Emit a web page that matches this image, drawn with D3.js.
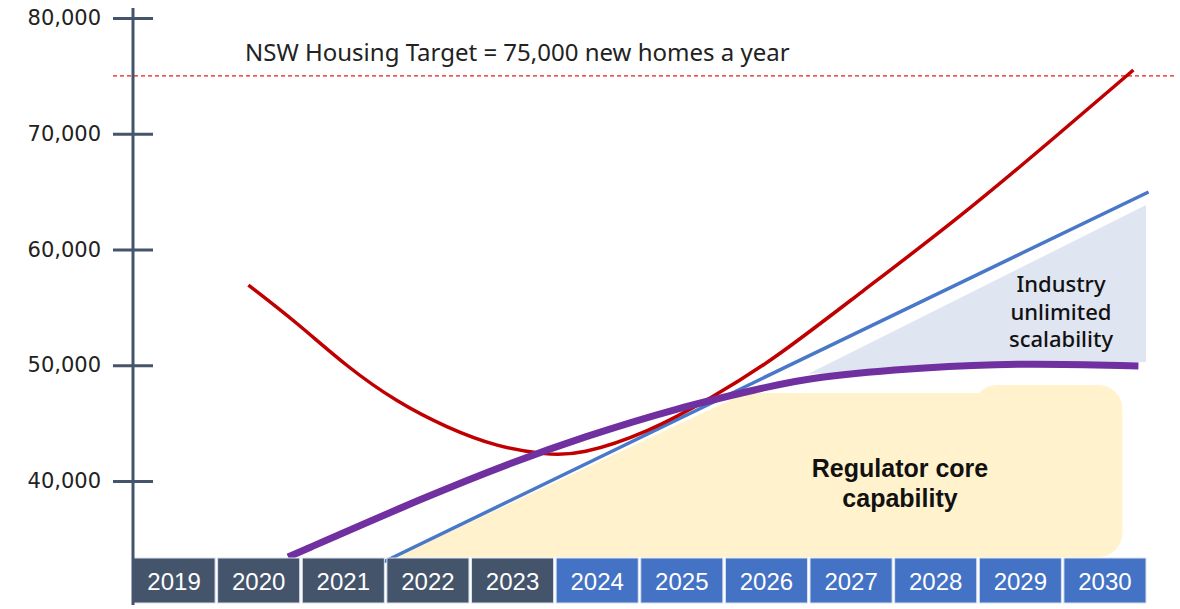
<!DOCTYPE html>
<html>
<head>
<meta charset="utf-8">
<script src="https://cdn.jsdelivr.net/npm/d3@7"></script>
<style>
  body { margin: 0; background: #fff; }
  svg { display: block; }
</style>
</head>
<body>
<svg id="chart"></svg>
<script>
// data
const years = [2019, 2020, 2021, 2022, 2023, 2024, 2025, 2026, 2027, 2028, 2029, 2030];
const pastYears = [2019, 2020, 2021, 2022, 2023];
const yTicks = [40000, 50000, 60000, 70000, 80000];
const target = 75000;
const targetLabel = "NSW Housing Target = 75,000 new homes a year";

// red: demand curve
const redYears = [2019.87, 2020.45, 2021.04, 2021.63, 2022.23, 2022.82, 2023.41, 2023.80, 2024.60, 2025.38, 2026.09, 2027.12, 2028.31, 2029.49, 2030.36];
const redValues = [56930, 53650, 49850, 46820, 44580, 42940, 42250, 42250, 44150, 47260, 50450, 56240, 62810, 70060, 75510];

// blue: straight trend
const blueYears = [2021.47, 2026.17, 2030.54];
const blueValues = [33000, 49600, 64970];

// purple: regulator capacity
const purpleYears = [2020.34, 2022.02, 2023.01, 2023.80, 2024.99, 2025.97, 2026.53, 2027.92, 2029.10, 2030.42];
const purpleValues = [33430, 38790, 41640, 43710, 46390, 48030, 48980, 49850, 50190, 49930];

// shaded regions
const coreYears = [2021.67, 2025.76, 2028.8];
const coreValues = [33600, 47600, 47600];
const coreBox = { from: 2028.46, to: 2030.23, top: 48290, bottom: 33430 };
const industryYears = [2026.51, 2030.51, 2030.51];
const industryValues = [49270, 63840, 50280];

const W = 1180, H = 609;
const svg = d3.select("#chart").attr("width", W).attr("height", H);

const y = d3.scaleLinear().domain([40000, 80000]).range([481, 18]);
const x = d3.scaleLinear().domain([2019, 2030]).range([175, 1103]);
const band = d3.scaleBand().domain(years).range([133, 1146]).paddingInner(0.03);
const bottomY = 557;
const yellow = "#fff2cc";

// regulator core capability (yellow)
const coreArea = d3.area()
  .x(d => x(d[0]))
  .y0(bottomY)
  .y1(d => y(d[1]));
svg.append("path")
  .datum(coreYears.map((d, i) => [d, coreValues[i]]))
  .attr("d", coreArea)
  .attr("fill", yellow);
svg.append("rect")
  .attr("x", x(coreBox.from))
  .attr("y", y(coreBox.top))
  .attr("width", x(coreBox.to) - x(coreBox.from))
  .attr("height", y(coreBox.bottom) - y(coreBox.top))
  .attr("rx", 24)
  .attr("fill", yellow);

// industry unlimited scalability (grey-blue)
svg.append("path")
  .attr("d", "M" + industryYears.map((d, i) => [x(d), y(industryValues[i])].join(",")).join("L") + "Z")
  .attr("fill", "#dfe5f1");

// target line
svg.append("line")
  .attr("x1", 113).attr("x2", 1176)
  .attr("y1", y(target)).attr("y2", y(target))
  .attr("stroke", "#e0201c")
  .attr("stroke-width", 1.2)
  .attr("stroke-dasharray", "4,3");

svg.append("text")
  .attr("x", 245).attr("y", 61)
  .attr("font-family", "'Noto Sans', sans-serif")
  .attr("font-size", 24)
  .attr("fill", "#222")
  .text(targetLabel);

const line = d3.line()
  .x(d => x(d[0]))
  .y(d => y(d[1]));

svg.append("path")
  .datum(blueYears.map((d, i) => [d, blueValues[i]]))
  .attr("d", line.curve(d3.curveLinear))
  .attr("fill", "none")
  .attr("stroke", "#4a78c8")
  .attr("stroke-width", 3.5);

svg.append("path")
  .datum(redYears.map((d, i) => [d, redValues[i]]))
  .attr("d", line.curve(d3.curveBasis))
  .attr("fill", "none")
  .attr("stroke", "#c00000")
  .attr("stroke-width", 3.5);

svg.append("path")
  .datum(purpleYears.map((d, i) => [d, purpleValues[i]]))
  .attr("d", line.curve(d3.curveBasis))
  .attr("fill", "none")
  .attr("stroke", "#7030a0")
  .attr("stroke-width", 7);

// region labels
const industryText = svg.append("text")
  .attr("font-family", "'Noto Sans', sans-serif")
  .attr("font-size", 22)
  .attr("font-weight", 500)
  .attr("fill", "#111")
  .attr("text-anchor", "middle");
["Industry", "unlimited", "scalability"].forEach((t, i) => {
  industryText.append("tspan").attr("x", 1061).attr("y", 292 + i * 27.5).text(t);
});

const coreText = svg.append("text")
  .attr("font-family", "'Liberation Sans', Arial, sans-serif")
  .attr("font-size", 25)
  .attr("font-weight", "bold")
  .attr("fill", "#111")
  .attr("text-anchor", "middle");
["Regulator core", "capability"].forEach((t, i) => {
  coreText.append("tspan").attr("x", 900).attr("y", 477 + i * 30).text(t);
});

// year boxes
const yearG = svg.append("g");
yearG.selectAll("rect")
  .data(years)
  .enter()
  .append("rect")
  .attr("x", d => band(d))
  .attr("y", 558)
  .attr("width", band.bandwidth())
  .attr("height", 45)
  .attr("stroke", "#d9e1ee")
  .attr("stroke-width", 1)
  .attr("fill", d => pastYears.includes(d) ? "#44546a" : "#4472c4");
yearG.selectAll("text")
  .data(years)
  .enter()
  .append("text")
  .attr("x", d => band(d) + band.bandwidth() / 2)
  .attr("y", 590)
  .attr("text-anchor", "middle")
  .attr("font-family", "'Liberation Sans', Arial, sans-serif")
  .attr("font-size", 24)
  .attr("fill", "#fff")
  .text(d => d);

// y axis
const axisColor = "#44546a";
svg.append("line")
  .attr("x1", 133).attr("x2", 133)
  .attr("y1", 8).attr("y2", 605)
  .attr("stroke", axisColor)
  .attr("stroke-width", 3);

const yAxis = d3.axisLeft(y)
  .tickValues(yTicks)
  .tickSize(20)
  .tickFormat(d3.format(","));

const axisG = svg.append("g")
  .attr("transform", "translate(133,0)")
  .call(yAxis);
axisG.select(".domain").remove();
axisG.selectAll(".tick line")
  .attr("x1", 20).attr("x2", -20)
  .attr("stroke", axisColor)
  .attr("stroke-width", 3);
axisG.selectAll(".tick text")
  .attr("x", -32)
  .attr("font-family", "'DejaVu Sans', sans-serif")
  .attr("font-size", 21)
  .attr("fill", "#222");
</script>
</body>
</html>
